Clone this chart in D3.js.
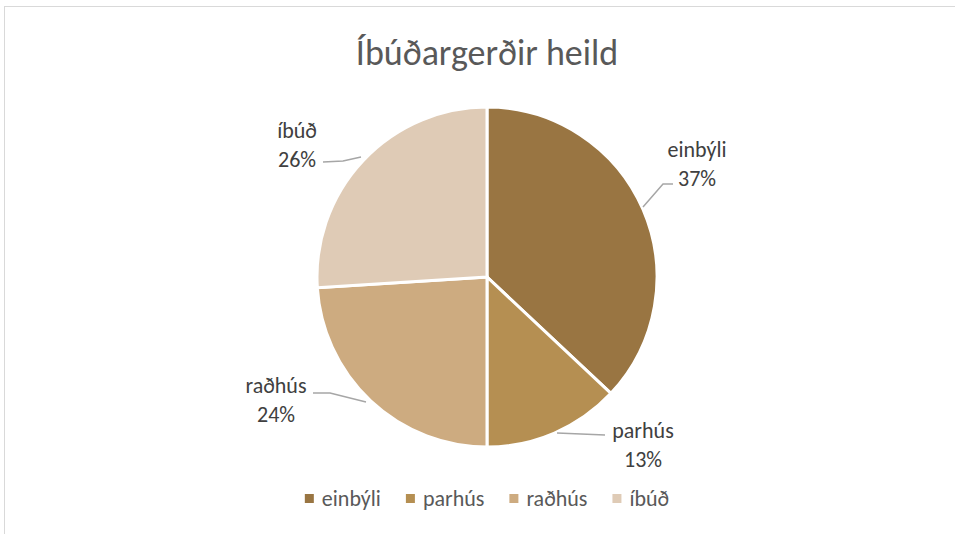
<!DOCTYPE html>
<html>
<head>
<meta charset="utf-8">
<script src="https://cdn.jsdelivr.net/npm/d3@7"></script>
<style>
  body { margin: 0; background: #fff; }
  svg { font-family: Carlito, "Open Sans", "Noto Sans", sans-serif; }
</style>
</head>
<body>
<svg id="chart" width="955" height="534"></svg>
<script>
const categories = ['einbýli', 'parhús', 'raðhús', 'íbúð'];
const values = [37, 13, 24, 26];
const colors = ['#997542', '#b58f52', '#cdab80', '#dfcbb6'];

// label anchors (text centre) and leader lines, from the picture
const labelPos = [
  { x: 697, y: 157, line: [[643, 207], [663, 184], [673, 184]] },
  { x: 643, y: 438, line: [[557, 433], [605, 435]] },
  { x: 276, y: 393, line: [[366, 402], [330, 393], [313, 393]] },
  { x: 297, y: 138, line: [[361, 157], [343, 161], [323, 162]] }
];

const svg = d3.select('#chart');
const cx = 487, cy = 277, r = 170;

// frame
svg.append('rect')
  .attr('x', 4.5).attr('y', 6.5)
  .attr('width', 1000).attr('height', 600)
  .attr('fill', 'none')
  .attr('stroke', '#d9d9d9');

svg.append('text')
  .attr('x', cx)
  .attr('y', 65)
  .attr('text-anchor', 'middle')
  .attr('font-size', 36)
  .attr('fill', '#595959')
  .text('Íbúðargerðir heild');

const pie = d3.pie().sort(null).value(d => d)(values);
const arc = d3.arc().innerRadius(0).outerRadius(r);

const g = svg.append('g').attr('transform', `translate(${cx},${cy})`);
g.selectAll('path')
  .data(pie)
  .enter()
  .append('path')
  .attr('d', arc)
  .attr('fill', (d, i) => colors[i])
  .attr('stroke', '#fff')
  .attr('stroke-width', 3);

// leader lines
const line = d3.line();
svg.append('g')
  .selectAll('path')
  .data(labelPos)
  .enter()
  .append('path')
  .attr('d', d => line(d.line))
  .attr('fill', 'none')
  .attr('stroke', '#a6a6a6')
  .attr('stroke-width', 1.5);

const labels = svg.append('g')
  .selectAll('text')
  .data(pie)
  .enter()
  .append('text')
  .attr('text-anchor', 'middle')
  .attr('font-size', 22)
  .attr('fill', '#404040');

labels.append('tspan')
  .attr('x', (d, i) => labelPos[i].x)
  .attr('y', (d, i) => labelPos[i].y)
  .text((d, i) => categories[i]);
labels.append('tspan')
  .attr('x', (d, i) => labelPos[i].x)
  .attr('y', (d, i) => labelPos[i].y + 29)
  .text(d => Math.round((d.endAngle - d.startAngle) / (2 * Math.PI) * 100) + '%');

// legend
const legend = svg.append('g');
let lx = 0;
const items = legend.selectAll('g')
  .data(categories)
  .enter()
  .append('g');
items.append('rect')
  .attr('width', 9).attr('height', 9)
  .attr('y', -12)
  .attr('fill', (d, i) => colors[i]);
items.append('text')
  .attr('x', 17)
  .attr('font-size', 22)
  .attr('fill', '#595959')
  .text(d => d);
items.each(function () {
  const w = this.getBBox().width;
  d3.select(this).attr('transform', `translate(${lx},0)`);
  lx += w + 25;
});
lx -= 25;
legend.attr('transform', `translate(${cx - lx / 2},506)`);
</script>
</body>
</html>
